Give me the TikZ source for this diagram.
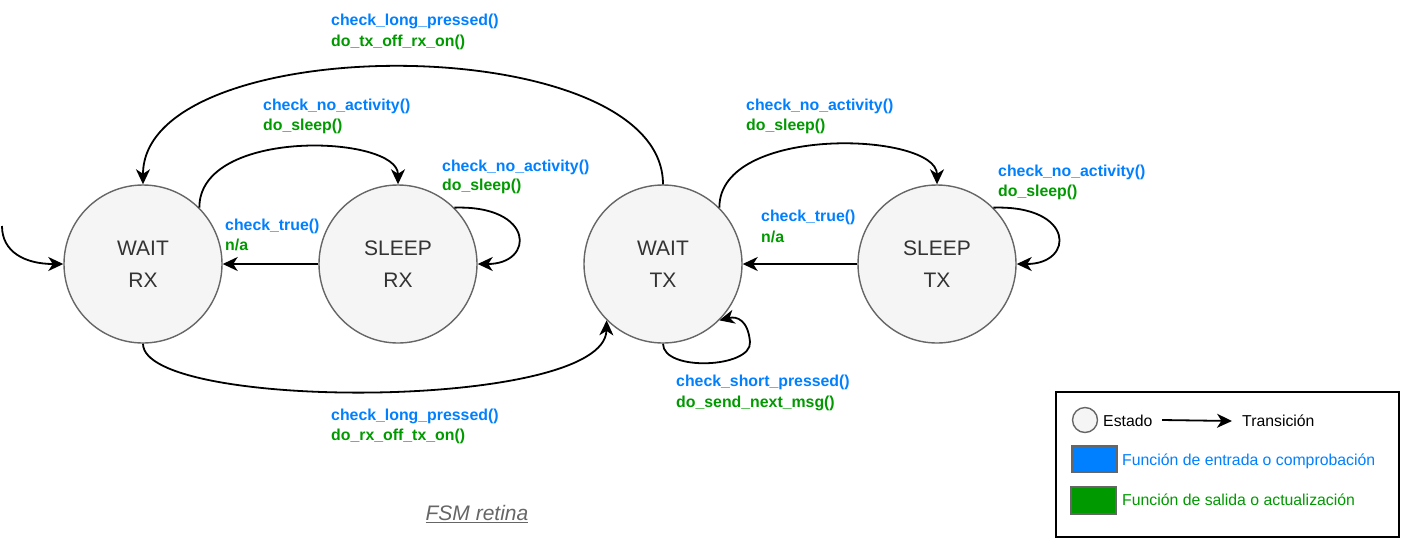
\documentclass[tikz,border=0pt]{standalone}
\usepackage{fontspec}
\setmainfont{Liberation Sans}
\usetikzlibrary{arrows.meta}
\definecolor{fblue}{HTML}{007FFF}
\definecolor{fgreen}{HTML}{009900}
\definecolor{stfill}{HTML}{F5F5F5}
\definecolor{ststroke}{HTML}{666666}
\definecolor{sttext}{HTML}{333333}
\begin{document}
\begin{tikzpicture}[x=1pt,y=-1pt,
  state/.style={circle, draw=ststroke, line width=1.4pt, fill=stfill, minimum size=158pt, inner sep=0pt,
    text=sttext, align=center, font=\fontsize{21}{32}\selectfont},
  labin/.style={anchor=west, inner sep=0pt, text=fblue, font=\fontsize{15.85}{19}\selectfont\bfseries},
  labout/.style={anchor=west, inner sep=0pt, text=fgreen, font=\fontsize{15.85}{19}\selectfont\bfseries},
  trans/.style={line width=1.8pt, -{Stealth[length=15pt,width=14pt,inset=4.5pt]}},
  legtext/.style={anchor=west, inner sep=0pt, font=\fontsize{15.8}{19}\selectfont}
]
\useasboundingbox (0,0) rectangle (1402,547);

% states
\node[state] (wrx) at (143,264) {WAIT\\RX};
\node[state] (srx) at (398,264) {SLEEP\\RX};
\node[state] (wtx) at (663,264) {WAIT\\TX};
\node[state] (stx) at (937,264) {SLEEP\\TX};

% transitions
\coordinate (init) at (2,226);
\draw[trans] (init) .. controls (2,252) and (25,264) .. (wrx.west);
\draw[trans] (wrx.45) .. controls (199,127) and (398,135) .. (srx.north);
\draw[trans] (srx.45) .. controls (535,205) and (535,264) .. (srx.east);
\draw[trans] (srx.west) -- (wrx.east);
\draw[trans] (wtx.north) .. controls (663,28) and (143,28) .. (wrx.north);
\draw[trans] (wrx.south) .. controls (143,411) and (605,411) .. (wtx.225);
\draw[trans] (wtx.45) .. controls (719,124) and (937,132) .. (stx.north);
\draw[trans] (stx.45) .. controls (1075,205) and (1075,264) .. (stx.east);
\draw[trans] (stx.west) -- (wtx.east);
\coordinate (lp) at (750,342);
\draw[trans] (wtx.south) .. controls (663,372) and (752,368) .. (lp) .. controls (748,320) and (737,316) .. (wtx.-45);

% labels
\node[labin]  (l1a) at (331,21)  {check\_long\_pressed()};
\node[labout] (l1b) at (331,42)  {do\_tx\_off\_rx\_on()};
\node[labin]  (l2a) at (263,106) {check\_no\_activity()};
\node[labout] (l2b) at (263,126) {do\_sleep()};
\node[labin]  (l3a) at (442,167) {check\_no\_activity()};
\node[labout] (l3b) at (442,186) {do\_sleep()};
\node[labin]  (l4a) at (225,226) {check\_true()};
\node[labout] (l4b) at (225,245) {n/a};
\node[labin]  (l5a) at (331,416) {check\_long\_pressed()};
\node[labout] (l5b) at (331,436) {do\_rx\_off\_tx\_on()};
\node[labin]  (l6a) at (746,106) {check\_no\_activity()};
\node[labout] (l6b) at (746,126) {do\_sleep()};
\node[labin]  (l7a) at (998,172) {check\_no\_activity()};
\node[labout] (l7b) at (998,192) {do\_sleep()};
\node[labin]  (l8a) at (761,217) {check\_true()};
\node[labout] (l8b) at (761,237) {n/a};
\node[labin]  (l9a) at (676,382) {check\_short\_pressed()};
\node[labout] (l9b) at (676,403) {do\_send\_next\_msg()};

% title
\node[text=ststroke, inner sep=0pt, font=\fontsize{21}{25}\selectfont\itshape] (title) at (477,514) {\underline{FSM retina}};

% legend
\draw[line width=1.8pt] (1056,392) rectangle (1399,537);
\node[circle, draw=ststroke, fill=stfill, line width=1.4pt, minimum size=25pt, inner sep=0pt] (legst) at (1085,420) {};
\node[legtext] (legsttext) at (1103,421) {Estado};
\coordinate (legA) at (1162,420);
\node[legtext] (legtrtext) at (1242,421) {Transición};
\draw[trans] (legA) -- (legtrtext.west -| 1232,0);
\node[draw=ststroke, fill=fblue, line width=1.4pt, minimum width=45pt, minimum height=26pt, inner sep=0pt] (legblue) at (1094.5,459) {};
\node[legtext, text=fblue] (legbluetext) at (1122,461) {Función de entrada o comprobación};
\node[draw=ststroke, fill=fgreen, line width=1.4pt, minimum width=45pt, minimum height=27pt, inner sep=0pt] (leggreen) at (1093.5,500.5) {};
\node[legtext, text=fgreen] (leggreentext) at (1122,500) {Función de salida o actualización};
\end{tikzpicture}
\end{document}
